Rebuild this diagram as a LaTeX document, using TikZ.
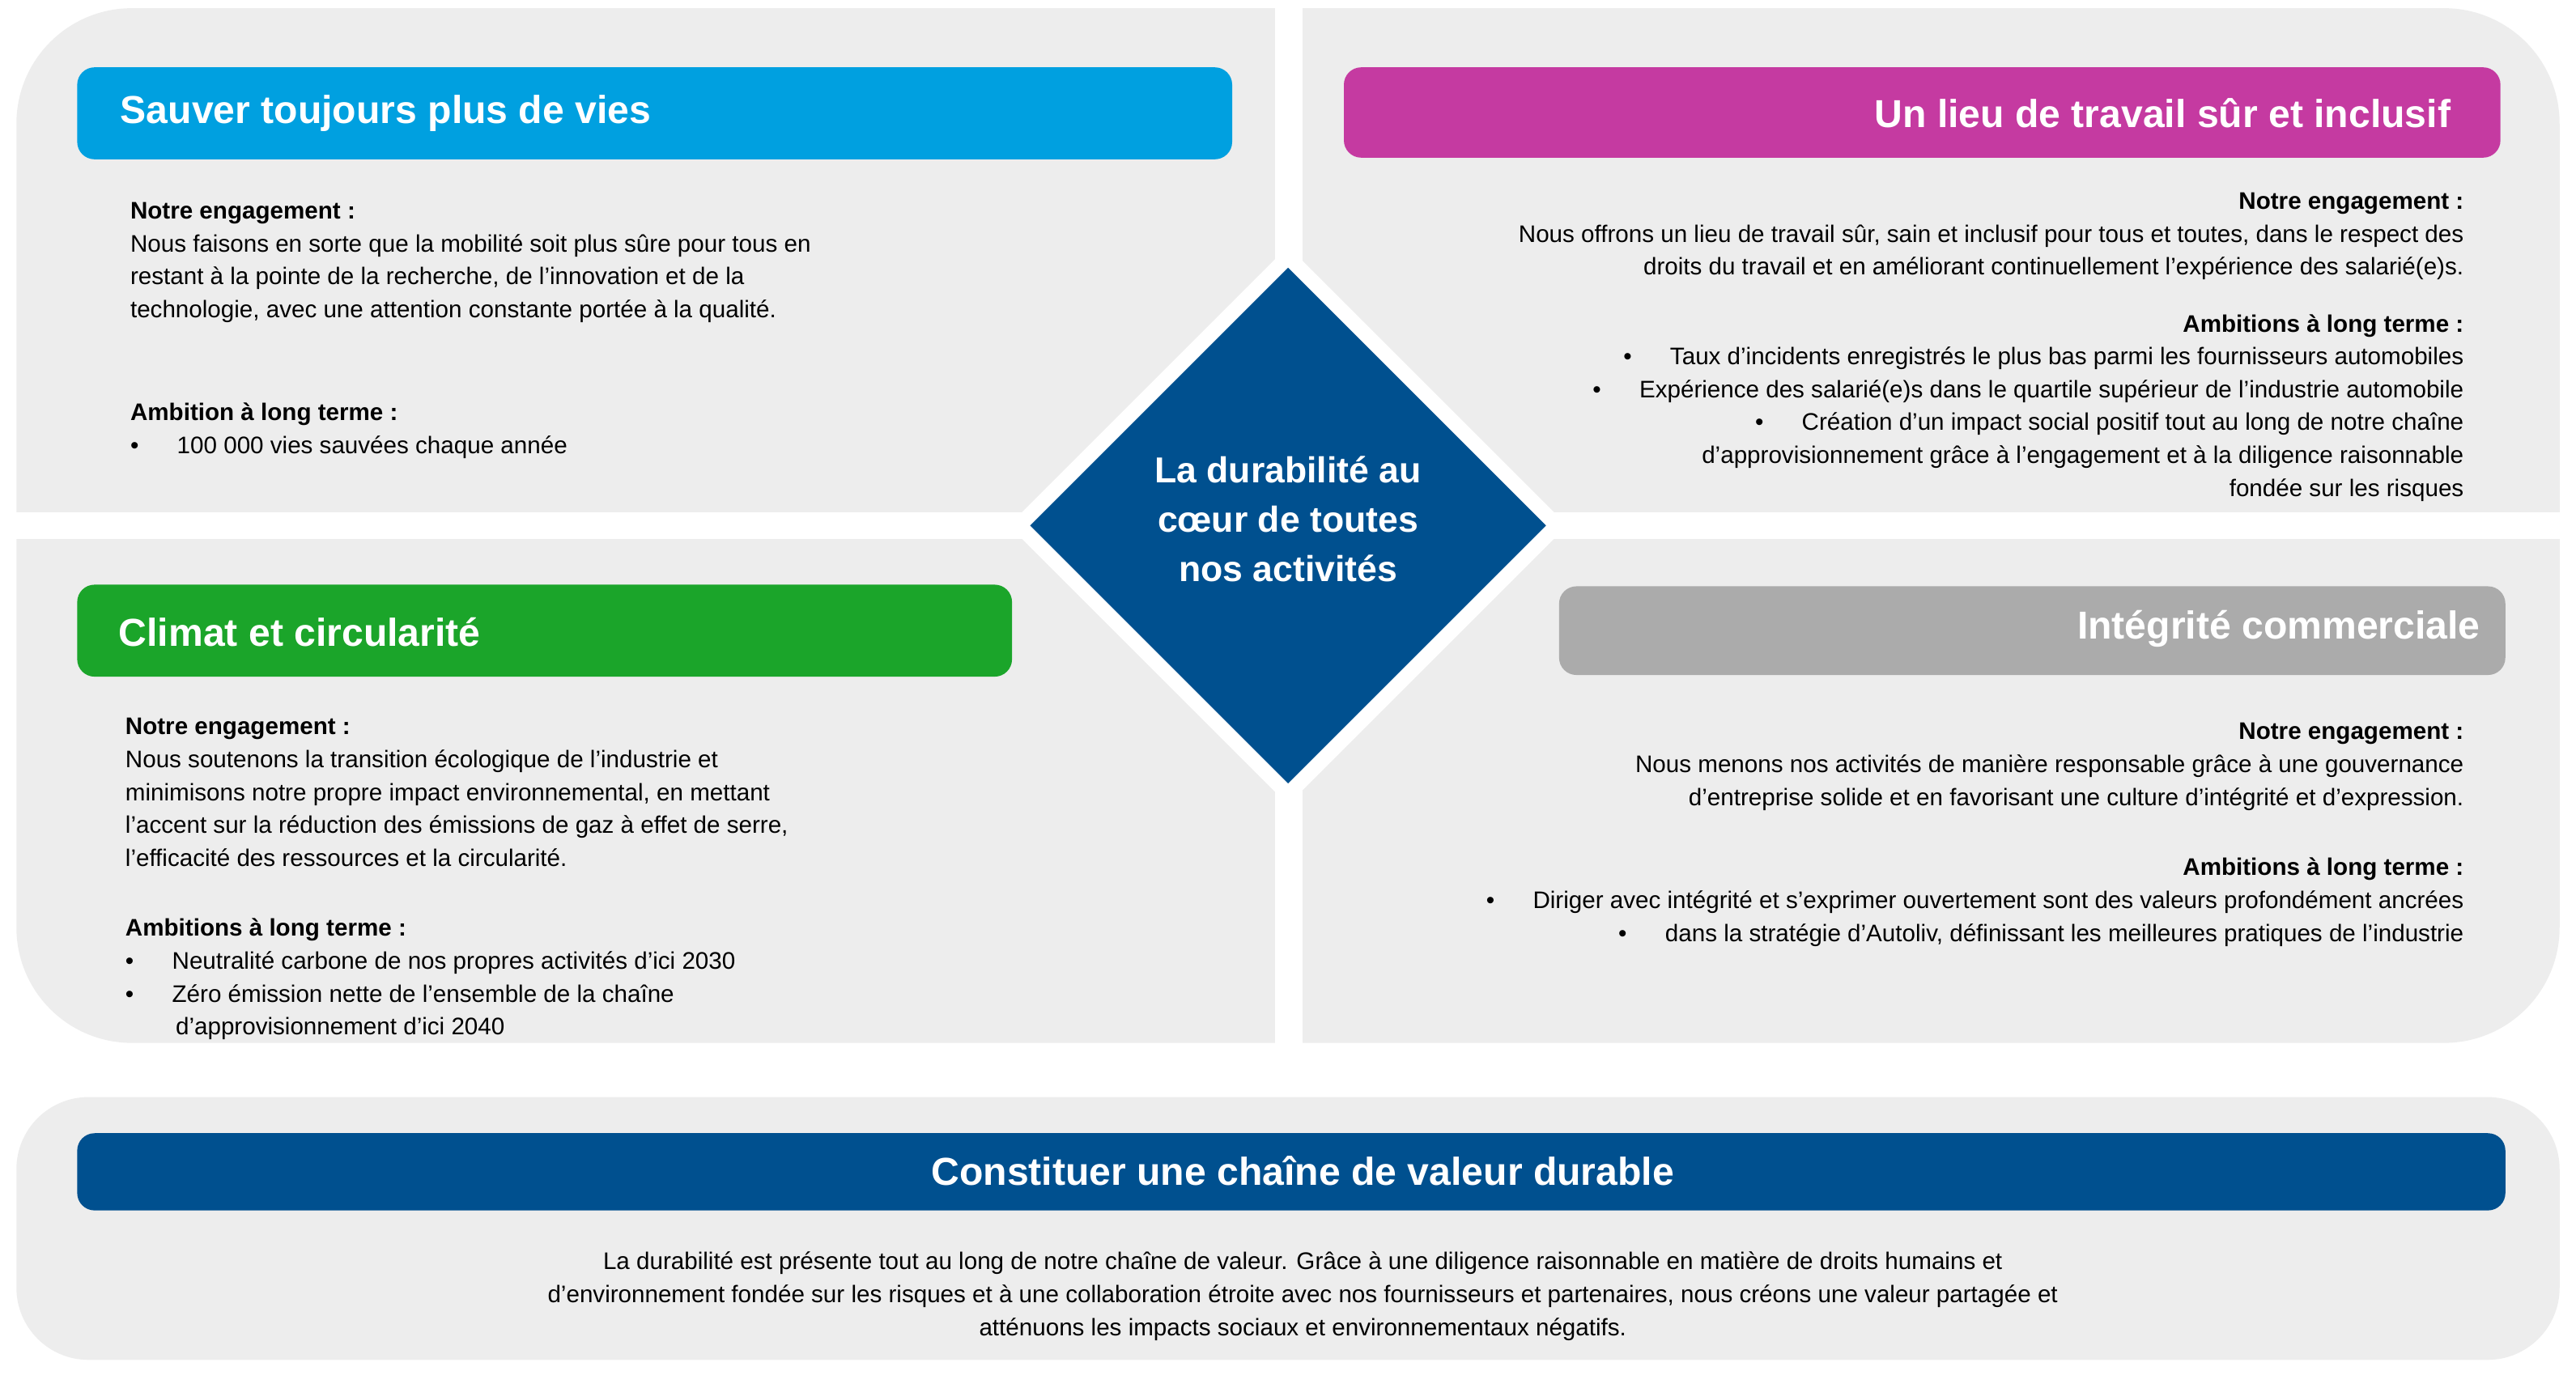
\documentclass[tikz,border=0pt]{standalone}
\usepackage{fontspec}
\setmainfont{Liberation Sans}
\usetikzlibrary{positioning}
\definecolor{panelgray}{HTML}{EDEDED}
\definecolor{barcyan}{HTML}{00A0E0}
\definecolor{barmagenta}{HTML}{C53AA1}
\definecolor{bargreen}{HTML}{1BA52A}
\definecolor{bargray}{HTML}{ABABAB}
\definecolor{barblue}{HTML}{00508F}
\tikzset{
  bar/.style={rounded corners=6pt},
  heading/.style={text=white,font=\fontsize{13.5}{16}\selectfont\bfseries,inner sep=0pt},
  body/.style={font=\fontsize{8.3}{11.4}\selectfont,inner sep=0pt},
}
\begin{document}
\begin{tikzpicture}[x=0.02cm,y=-0.02cm]
  \useasboundingbox (0,0) rectangle (1568,837);
  \fill[white] (0,0) rectangle (1568,837);

  % panels
  \fill[panelgray,rounded corners=40pt] (10,5) rectangle (1558,635);
  \fill[panelgray,rounded corners=25pt] (10,668) rectangle (1558,828);
  \fill[white] (776,0) rectangle (793,640);
  \fill[white] (0,312) rectangle (1568,328);
  \fill[white] (784,150) -- (954,320) -- (784,490) -- (614,320) -- cycle;

  % centre
  \fill[barblue] (784,163) -- (941,320) -- (784,477) -- (627,320) -- cycle;
  \node[text=white,align=center,inner sep=0pt,
    font=\fontsize{12.5}{17}\selectfont\bfseries] (centre) at (784,316)
    {La durabilité au\\cœur de toutes\\nos activités};

  % bars
  \fill[barcyan,bar] (47,41) rectangle (750,97);
  \node[heading,anchor=west] (h1) at (73,69) {Sauver toujours plus de vies};
  \fill[barmagenta,bar] (818,41) rectangle (1522,96);
  \node[heading,anchor=east] (h2) at (1492,69) {Un lieu de travail sûr et inclusif};
  \fill[bargreen,bar] (47,356) rectangle (616,412);
  \node[heading,anchor=west] (h3) at (72,385) {Climat et circularité};
  \fill[bargray,bar] (949,357) rectangle (1525,411);
  \node[heading,anchor=east] (h4) at (1510,383) {Intégrité commerciale};
  \fill[barblue,bar] (47,690) rectangle (1525,737);
  \node[heading] (h5) at (793,713) {Constituer une chaîne de valeur durable};

  % texts
  \node[body,anchor=north west,align=left] (t1) at (79,123)
    {\textbf{Notre engagement :}\\
     Nous faisons en sorte que la mobilité soit plus sûre pour tous en\\
     restant à la pointe de la recherche, de l’innovation et de la\\
     technologie, avec une attention constante portée à la qualité.};
  \node[body,anchor=north west,align=left] (t1b) at (79,245)
    {\textbf{Ambition à long terme :}\\
     •\hspace{1.6em}100 000 vies sauvées chaque année};

  \node[body,anchor=north east,align=right] (t2) at (1500,117)
    {\textbf{Notre engagement :}\\
     Nous offrons un lieu de travail sûr, sain et inclusif pour tous et toutes, dans le respect des\\
     droits du travail et en améliorant continuellement l’expérience des salarié(e)s.};
  \node[body,anchor=north east,align=right] (t2b) at (1500,191)
    {\textbf{Ambitions à long terme :}\\
     •\hspace{1.6em}Taux d’incidents enregistrés le plus bas parmi les fournisseurs automobiles\\
     •\hspace{1.6em}Expérience des salarié(e)s dans le quartile supérieur de l’industrie automobile\\
     •\hspace{1.6em}Création d’un impact social positif tout au long de notre chaîne\\
     d’approvisionnement grâce à l’engagement et à la diligence raisonnable\\
     fondée sur les risques};

  \node[body,anchor=north west,align=left] (t3) at (76,437)
    {\textbf{Notre engagement :}\\
     Nous soutenons la transition écologique de l’industrie et\\
     minimisons notre propre impact environnemental, en mettant\\
     l’accent sur la réduction des émissions de gaz à effet de serre,\\
     l’efficacité des ressources et la circularité.};
  \node[body,anchor=north west,align=left] (t3b) at (76,559)
    {\textbf{Ambitions à long terme :}\\
     •\hspace{1.6em}Neutralité carbone de nos propres activités d’ici 2030\\
     •\hspace{1.6em}Zéro émission nette de l’ensemble de la chaîne\\
     \hspace{2.1em}d’approvisionnement d’ici 2040};

  \node[body,anchor=north east,align=right] (t4) at (1500,440)
    {\textbf{Notre engagement :}\\
     Nous menons nos activités de manière responsable grâce à une gouvernance\\
     d’entreprise solide et en favorisant une culture d’intégrité et d’expression.};
  \node[body,anchor=north east,align=right] (t4b) at (1500,522)
    {\textbf{Ambitions à long terme :}\\
     •\hspace{1.6em}Diriger avec intégrité et s’exprimer ouvertement sont des valeurs profondément ancrées\\
     •\hspace{1.6em}dans la stratégie d’Autoliv, définissant les meilleures pratiques de l’industrie};

  \node[body,anchor=north,align=center] (t5) at (793,762)
    {La durabilité est présente tout au long de notre chaîne de valeur. Grâce à une diligence raisonnable en matière de droits humains et\\
     d’environnement fondée sur les risques et à une collaboration étroite avec nos fournisseurs et partenaires, nous créons une valeur partagée et\\
     atténuons les impacts sociaux et environnementaux négatifs.};
\end{tikzpicture}
\end{document}
